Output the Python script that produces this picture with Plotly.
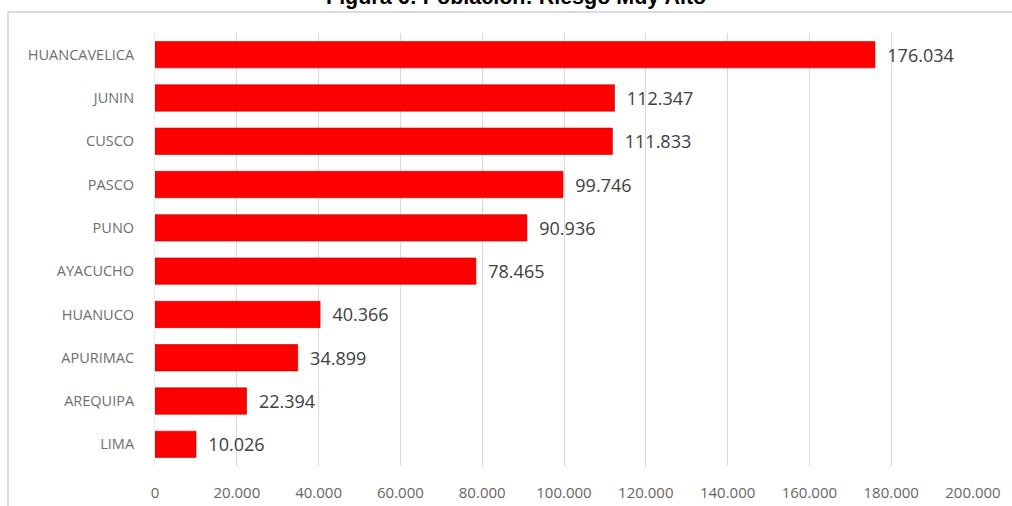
import plotly.graph_objects as go

categories = ["HUANCAVELICA", "JUNIN", "CUSCO", "PASCO", "PUNO",
              "AYACUCHO", "HUANUCO", "APURIMAC", "AREQUIPA", "LIMA"]
values = [176034, 112347, 111833, 99746, 90936, 78465, 40366, 34899, 22394, 10026]
x_ticks = [0, 20000, 40000, 60000, 80000, 100000, 120000, 140000, 160000, 180000, 200000]
title_text = "Figura 6: Población: Riesgo Muy Alto"

W, H = 1012, 506
L, R, T, B = 155, 39, 33, 40
pw, ph = W - L - R, H - T - B

def px_to_paper_x(px):
    return (px - L) / pw

def px_to_paper_y(py):
    return 1 - (py - T) / ph

FONT = "Open Sans, Lato, sans-serif"

fig = go.Figure(go.Bar(
    x=values, y=categories, orientation="h",
    marker=dict(color="#ff0000", line=dict(color="rgba(190,0,0,0.6)", width=1)),
    texttemplate="\u00a0\u00a0%{x:,}", textposition="outside",
    textfont=dict(family=FONT, size=18, color="#404040"),
    cliponaxis=False,
))

fig.update_layout(
    width=W, height=H,
    margin=dict(l=L, r=R, t=T, b=B, autoexpand=False),
    paper_bgcolor="white", plot_bgcolor="white",
    separators=",.",
    bargap=0.39,
    showlegend=False,
    xaxis=dict(range=[0, 200000], tickvals=x_ticks, tickformat=",",
               showgrid=True, gridcolor="#d9d9d9", gridwidth=1,
               zeroline=False, showline=False, automargin=False,
               tickfont=dict(family=FONT, size=15, color="#666666"),
               ticklabelstandoff=16),
    yaxis=dict(autorange="reversed", showgrid=False, zeroline=False,
               showline=True, linecolor="#ececec", linewidth=1, automargin=False,
               tickfont=dict(family=FONT, size=14.5, color="#6e6e6e"),
               ticklabelstandoff=17),
)

# chart frame (open to the right and bottom, as in the reference)
fig.add_shape(type="rect", xref="paper", yref="paper",
              x0=px_to_paper_x(8), x1=px_to_paper_x(1030),
              y0=px_to_paper_y(530), y1=px_to_paper_y(12),
              line=dict(color="#d0d0d0", width=1.5), fillcolor="rgba(0,0,0,0)", layer="below")

fig.add_annotation(text="<b>" + title_text + "</b>", xref="paper", yref="paper",
                   x=px_to_paper_x(516), y=px_to_paper_y(-3), xanchor="center", yanchor="middle",
                   showarrow=False,
                   font=dict(family="Liberation Sans, Arial, sans-serif", size=21.5, color="black"))

fig.write_html("out.html", config={"displayModeBar": False},
               post_script="document.body.style.margin='0';document.body.style.overflow='hidden';")
